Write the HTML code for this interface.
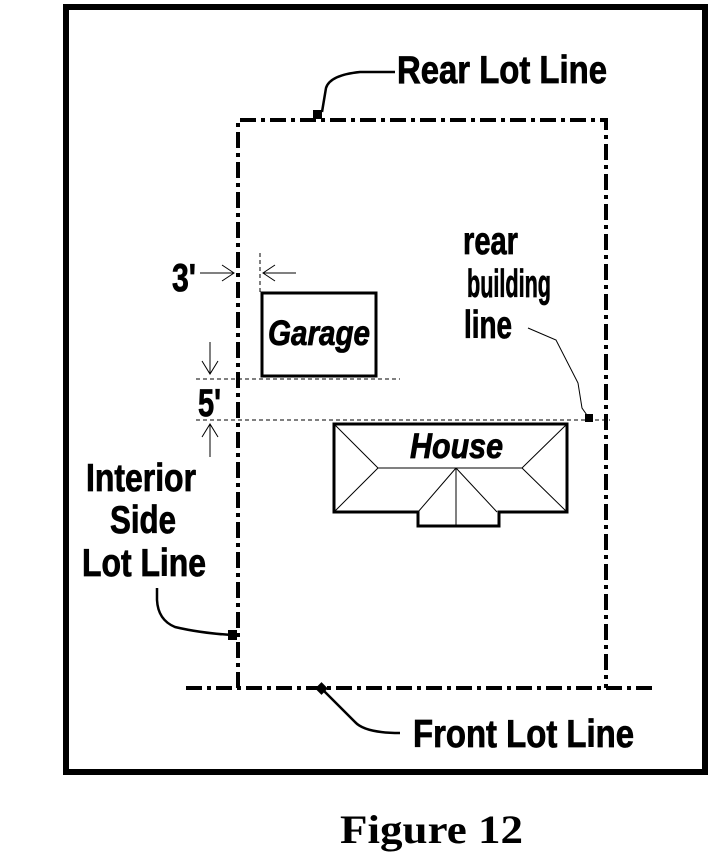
<!DOCTYPE html>
<html><head><meta charset="utf-8"><style>html,body{margin:0;padding:0;background:#fff;width:725px;height:866px;overflow:hidden}</style></head>
<body>
<svg width="725" height="866" viewBox="0 0 725 866" xmlns="http://www.w3.org/2000/svg">
<rect x="66" y="7" width="639" height="765" fill="none" stroke="#000" stroke-width="6"/>
<g stroke="#000" stroke-width="4" fill="none" stroke-dasharray="16 5 4 5">
<path d="M238 688 V120 H606 V688"/>
<path d="M186 688 H655"/>
</g>
<g stroke="#000" stroke-width="1" fill="none" stroke-dasharray="4 3">
<path d="M196 379 H400"/>
<path d="M196 420 H610"/>
<path d="M260 253 V292"/>
</g>
<rect x="262" y="293" width="114" height="83" fill="none" stroke="#000" stroke-width="3"/>
<path d="M334 424 H567 V512 H499 V526 H418 V512 H334 Z" fill="none" stroke="#000" stroke-width="3"/>
<g stroke="#000" stroke-width="1" fill="none">
<path d="M334 424 L378 468 H522 L567 424 M334 512 L378 468 M567 512 L522 468 M456 468 V526 M456 468 L418 512 M456 468 L497 512"/>
<path d="M200 273 H234 M222 265 L234 273 L222 281"/>
<path d="M296 273 H263 M275 265 L263 273 L275 281"/>
<path d="M210 342 V374 M202 361 L210 374 L218 361"/>
<path d="M210 457 V424 M202 437 L210 424 L218 437"/>
<path d="M528 328 L556 340 L578 383 L582 408 L589 418"/>
</g>
<g stroke="#000" stroke-width="2.5" fill="none">
<path d="M395 72 H360 Q330 75 326 88 L322 112"/>
<path d="M322 689 L355 722 Q365 733 400 733"/>
<path d="M157 588 V600 Q158 620 175 627 Q200 633 232 635"/>
</g>
<rect x="313" y="110" width="9" height="9" fill="#000"/>
<rect x="317" y="684" width="9" height="9" fill="#000" transform="rotate(45 321.5 688.5)"/>
<rect x="228" y="630" width="9" height="10" fill="#000"/>
<rect x="585" y="414" width="8" height="8" fill="#000"/>
<g font-family="Liberation Sans, sans-serif" font-weight="bold" fill="#000" stroke="#000" stroke-width="0.8" font-size="39">
<text x="397" y="83" textLength="210" lengthAdjust="spacingAndGlyphs">Rear Lot Line</text>
<text x="463" y="254" textLength="55" lengthAdjust="spacingAndGlyphs">rear</text>
<text x="467" y="297" textLength="84" lengthAdjust="spacingAndGlyphs">building</text>
<text x="464" y="338" textLength="48" lengthAdjust="spacingAndGlyphs">line</text>
<text x="172" y="291" textLength="24" lengthAdjust="spacingAndGlyphs">3'</text>
<text x="198" y="416" textLength="23" lengthAdjust="spacingAndGlyphs">5'</text>
<text x="268" y="345" font-size="35" font-style="italic" textLength="102" lengthAdjust="spacingAndGlyphs">Garage</text>
<text x="410" y="458" font-size="35" font-style="italic" textLength="93" lengthAdjust="spacingAndGlyphs">House</text>
<text x="86" y="491" textLength="110" lengthAdjust="spacingAndGlyphs">Interior</text>
<text x="110" y="533" textLength="66" lengthAdjust="spacingAndGlyphs">Side</text>
<text x="82" y="576" textLength="124" lengthAdjust="spacingAndGlyphs">Lot Line</text>
<text x="413" y="747" textLength="221" lengthAdjust="spacingAndGlyphs">Front Lot Line</text>
</g>
<text x="340" y="843" font-family="Liberation Serif, serif" font-weight="bold" font-size="40" textLength="183" lengthAdjust="spacingAndGlyphs">Figure 12</text>
</svg>
</body></html>
